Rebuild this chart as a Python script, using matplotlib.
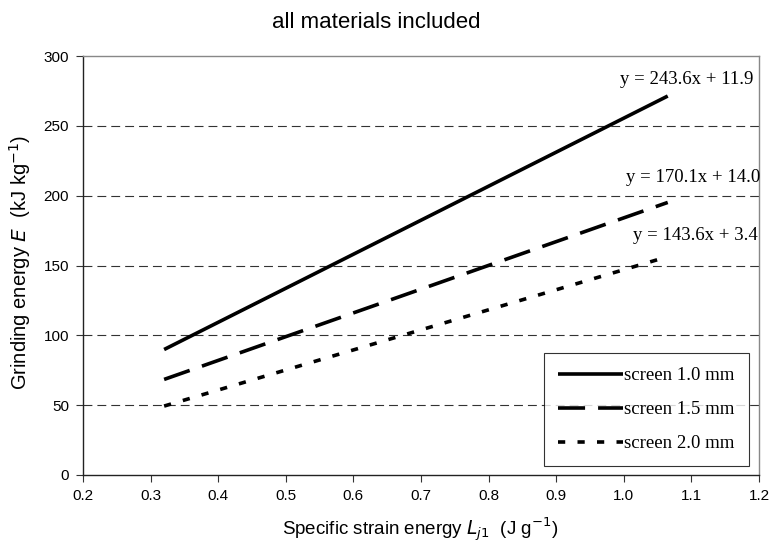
import matplotlib.pyplot as plt
import numpy as np

# regression fits per screen size: E = slope * L + intercept
screens = ["screen 1.0 mm", "screen 1.5 mm", "screen 2.0 mm"]
slopes = [243.6, 170.1, 143.6]
intercepts = [11.9, 14.0, 3.4]
x_range = [0.32, 1.065]
styles = ["-", (0, (7.5, 3.6)), (0, (2.0, 3.4))]
label_pos = [(753, 79), (760, 178), (758, 236)]

plt.rcParams['font.family'] = ['Liberation Sans', 'DejaVu Sans']

fig = plt.figure(figsize=(7.74, 5.5), dpi=100)
ax = fig.add_axes([83 / 774, 75 / 550, 676 / 774, 419 / 550])

xs = np.array(x_range)
for name, m, b, ls in zip(screens, slopes, intercepts, styles):
    ax.plot(xs, m * xs + b, color="black", lw=2.6, ls=ls, label=name,
            solid_capstyle="butt", dash_capstyle="butt")

# equation labels
for m, b, (px, py) in zip(slopes, intercepts, label_pos):
    fig.text(px / 774, 1 - py / 550, f"y = {m:.1f}x + {b:.1f}",
             ha="right", va="center", fontsize=13.5, family="Liberation Serif")

ax.set_xlim(0.2, 1.2)
ax.set_ylim(0, 300)
ax.set_xticks(np.arange(0.2, 1.21, 0.1))
ax.set_xticklabels([f"{v:.1f}" for v in np.arange(0.2, 1.21, 0.1)])
ax.set_yticks(range(0, 301, 50))
for y in range(50, 300, 50):
    ax.axhline(y, color="#333333", lw=0.8, ls=(0, (8, 4.5)), zorder=0)

ax.tick_params(direction="out", length=5, width=0.8, labelsize=11,
               color="#333333", pad=5)
for s in ["left", "bottom"]:
    ax.spines[s].set_color("#222222")
    ax.spines[s].set_linewidth(1.0)
for s in ["top", "right"]:
    ax.spines[s].set_color("#888888")
    ax.spines[s].set_linewidth(1.0)

fig.text(376 / 774, 1 - 22 / 550, "all materials included", fontsize=16,
         ha="center", va="center")
fig.text(420 / 774, 1 - 530 / 550,
         r"Specific strain energy $L_{j1}$  (J g$^{-1}$)", fontsize=13.5,
         ha="center", va="center")
fig.text(20 / 774, 1 - 262 / 550,
         r"Grinding energy $E$  (kJ kg$^{-1}$)", fontsize=14.5,
         ha="center", va="center", rotation=90)

leg = ax.legend(loc="lower right", bbox_to_anchor=(0.985, 0.021),
                prop={"family": "Liberation Serif", "size": 13.5},
                frameon=True, fancybox=False, edgecolor="black",
                handlelength=3.5, handletextpad=0.05, labelspacing=0.9,
                borderpad=0.75, borderaxespad=0)
leg.get_frame().set_linewidth(0.8)

fig.savefig("out.png", dpi=100)
